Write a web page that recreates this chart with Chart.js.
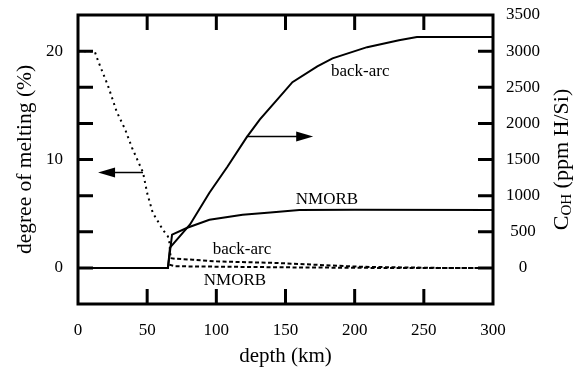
<!DOCTYPE html>
<html lang="en">
<head>
  <meta charset="UTF-8" />
  <title>Degree of melting and C_OH vs depth</title>
  <script src="https://cdn.jsdelivr.net/npm/chart.js"></script>
  <style>
    * { margin: 0; padding: 0; box-sizing: border-box; }
    body { background: #fff; }
    .chart-container { position: relative; width: 586px; height: 369px; }
  </style>
</head>
<body>
  <div class="chart-container">
    <canvas id="meltChart"></canvas>
  </div>

  <script>
    // C_OH (ppm H/Si), right axis
    const depthBackArcOH = [0, 65, 66.5, 81, 95, 108, 122, 131.5, 144, 155, 173, 184, 209, 232, 245, 300];
    const cohBackArc     = [0, 0, 280, 600, 1040, 1400, 1810, 2055, 2330, 2570, 2790, 2900, 3055, 3150, 3195, 3195];
    const depthNmorbOH   = [0, 65, 68, 79, 95, 119, 139, 160, 200, 300];
    const cohNmorb       = [0, 0, 460, 555, 665, 735, 765, 800, 805, 800];

    // degree of melting (%), left axis
    const depthMeltBackArc = [0, 12, 14.5, 21.7, 28, 34, 39, 47, 50, 54, 61.4, 65, 66, 67, 70, 83, 100, 144, 204, 260, 300];
    const meltBackArc      = [20, 20, 19.1, 16.8, 14.4, 12.8, 11.1, 8.8, 6.9, 5.1, 3.5, 2.9, 2.4, 0.9, 0.85, 0.75, 0.6, 0.45, 0.1, 0, 0];
    const depthMeltNmorb   = [66, 70, 150, 210, 300];
    const meltNmorb        = [0.3, 0.15, 0.05, 0, 0];

    // tick positions on the melting axis (same spacing as 500 ppm on the right)
    const meltTicks = [0, 10 / 3, 20 / 3, 10, 40 / 3, 50 / 3, 20];

    const FONT = "'Liberation Serif', 'Times New Roman', serif";
    Chart.defaults.font.family = FONT;
    Chart.defaults.color = '#000';

    const toPoints = (xs, ys) => xs.map((x, i) => ({ x: x, y: ys[i] }));

    // text labels and arrows drawn on the plot
    const notes = [
      { text: 'back-arc', x: 204, y: 2722, axis: 'yR' },
      { text: 'NMORB', x: 180, y: 944, axis: 'yR' },
      { text: 'back-arc', x: 118.5, y: 1.67, axis: 'yL' },
      { text: 'NMORB', x: 113.5, y: -1.2, axis: 'yL' }
    ];
    const arrows = [
      { axis: 'yL', y: 8.8, from: 47, to: 14.5 },
      { axis: 'yR', y: 1820, from: 122, to: 170 }
    ];

    const framePlugin = {
      id: 'frame',
      afterDraw(chart) {
        const { ctx, chartArea: a, scales } = chart;
        const { x, yL, yR } = scales;
        const len = 15;
        ctx.save();
        ctx.strokeStyle = '#000';
        ctx.fillStyle = '#000';
        ctx.lineWidth = 3;
        ctx.strokeRect(a.left, a.top, a.right - a.left, a.bottom - a.top);

        // inward tick marks
        ctx.beginPath();
        x.ticks.forEach(t => {
          if (t.value <= x.min || t.value >= x.max) return;
          const px = x.getPixelForValue(t.value);
          ctx.moveTo(px, a.bottom); ctx.lineTo(px, a.bottom - len);
          ctx.moveTo(px, a.top); ctx.lineTo(px, a.top + len);
        });
        yL.ticks.forEach(t => {
          if (t.value <= yL.min || t.value >= yL.max) return;
          const py = yL.getPixelForValue(t.value);
          ctx.moveTo(a.left, py); ctx.lineTo(a.left + len, py);
        });
        yR.ticks.forEach(t => {
          if (t.value <= yR.min || t.value >= yR.max) return;
          const py = yR.getPixelForValue(t.value);
          ctx.moveTo(a.right, py); ctx.lineTo(a.right - len, py);
        });
        ctx.stroke();

        // arrows
        ctx.lineWidth = 1.5;
        arrows.forEach(ar => {
          const py = scales[ar.axis].getPixelForValue(ar.y);
          const x0 = x.getPixelForValue(ar.from);
          const x1 = x.getPixelForValue(ar.to);
          const dir = x1 > x0 ? 1 : -1;
          ctx.beginPath();
          ctx.moveTo(x0, py); ctx.lineTo(x1 - dir * 14, py);
          ctx.stroke();
          ctx.beginPath();
          ctx.moveTo(x1, py);
          ctx.lineTo(x1 - dir * 17, py - 5);
          ctx.lineTo(x1 - dir * 17, py + 5);
          ctx.closePath();
          ctx.fill();
        });

        // curve labels
        ctx.font = '17px ' + FONT;
        ctx.textAlign = 'center';
        ctx.textBaseline = 'middle';
        notes.forEach(n => {
          ctx.fillText(n.text, x.getPixelForValue(n.x), scales[n.axis].getPixelForValue(n.y));
        });

        // right axis title: C_OH (ppm H/Si), reading bottom to top
        const big = '22px ' + FONT, small = '15px ' + FONT;
        ctx.font = big; const wC = ctx.measureText('C').width;
        const wRest = ctx.measureText(' (ppm H/Si)').width;
        ctx.font = small; const wSub = ctx.measureText('OH').width;
        const total = wC + wSub + wRest;
        ctx.translate(562, (a.top + a.bottom) / 2);
        ctx.rotate(-Math.PI / 2);
        ctx.textAlign = 'left';
        ctx.textBaseline = 'middle';
        let cx = -total / 2;
        ctx.font = big; ctx.fillText('C', cx, 0); cx += wC;
        ctx.font = small; ctx.fillText('OH', cx, 5); cx += wSub;
        ctx.font = big; ctx.fillText(' (ppm H/Si)', cx, 0);
        ctx.restore();
      }
    };

    const lineStyle = { borderColor: '#000', borderWidth: 2, pointRadius: 0, tension: 0, fill: false };

    // fixed axis boxes so the plot frame sits where the original one does
    const fixWidth = w => s => { s.width = w; s.paddingTop = 0; s.paddingBottom = 0; };

    new Chart(document.getElementById('meltChart'), {
      type: 'line',
      data: {
        datasets: [
          { ...lineStyle, label: 'C_OH back-arc', yAxisID: 'yR', data: toPoints(depthBackArcOH, cohBackArc) },
          { ...lineStyle, label: 'C_OH NMORB', yAxisID: 'yR', data: toPoints(depthNmorbOH, cohNmorb) },
          {
            ...lineStyle, label: 'melting back-arc', yAxisID: 'yL',
            data: toPoints(depthMeltBackArc, meltBackArc),
            segment: { borderDash: c => c.p0.parsed.x < 66.5 ? [2, 4] : [4, 2.5] }
          },
          { ...lineStyle, label: 'melting NMORB', yAxisID: 'yL', borderDash: [4, 2.5], data: toPoints(depthMeltNmorb, meltNmorb) }
        ]
      },
      options: {
        responsive: true,
        maintainAspectRatio: false,
        animation: false,
        layout: { padding: { top: 15 } },
        plugins: { legend: { display: false }, tooltip: { enabled: false } },
        scales: {
          x: {
            type: 'linear', min: 0, max: 300,
            ticks: { stepSize: 50, padding: 16, maxRotation: 0, font: { size: 17 } },
            grid: { display: false, drawTicks: false },
            border: { display: false },
            title: { display: true, text: 'depth (km)', font: { size: 21 }, padding: { top: 0, bottom: 0 } },
            afterFit: s => { s.height = 65; s.paddingLeft = 0; s.paddingRight = 0; }
          },
          yL: {
            type: 'linear', position: 'left', min: -10 / 3, max: 70 / 3,
            afterBuildTicks: s => { s.ticks = meltTicks.map(v => ({ value: v })); },
            ticks: {
              padding: 15, font: { size: 17 },
              callback: v => (Math.abs(v - Math.round(v / 10) * 10) < 1e-6 ? Math.round(v) : '')
            },
            grid: { display: false, drawTicks: false },
            border: { display: false },
            title: { display: true, text: 'degree of melting (%)', font: { size: 21.5 }, padding: { top: 12, bottom: 0 } },
            afterFit: fixWidth(78)
          },
          yR: {
            type: 'linear', position: 'right', min: -500, max: 3500,
            ticks: {
              stepSize: 500, padding: 13, crossAlign: 'center', font: { size: 17 },
              callback: v => (v < 0 ? '' : v)
            },
            grid: { display: false, drawTicks: false },
            border: { display: false },
            afterFit: fixWidth(93)
          }
        }
      },
      plugins: [framePlugin]
    });
  </script>
</body>
</html>
